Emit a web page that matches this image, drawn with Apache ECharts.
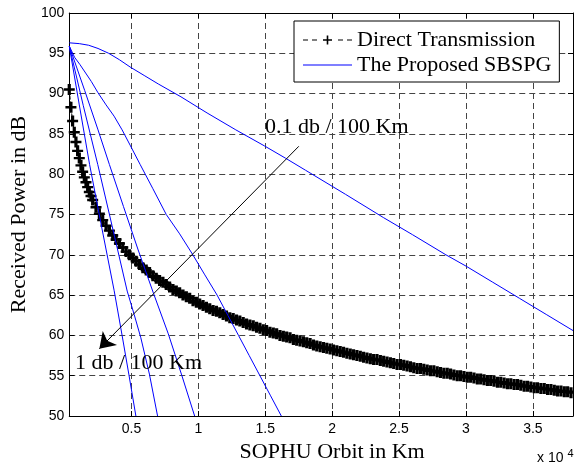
<!DOCTYPE html>
<html><head><meta charset="utf-8">
<script src="https://cdn.jsdelivr.net/npm/echarts@6/dist/echarts.min.js"></script>
<style>html,body{margin:0;padding:0;background:#fff}#c{width:574px;height:468px}</style>
</head><body><div id="c"></div>
<script>
// ---- tick labels ----
const xTickValues = [5000, 10000, 15000, 20000, 25000, 30000, 35000];
const xTickLabels = ['0.5', '1', '1.5', '2', '2.5', '3', '3.5'];

// ---- Direct Transmission (km, dB) ----
const dtKm = [350,475,600,725,850,975,1100,1225,1350,1475,1600,1725,1850,1975,2100,
2350,2600,2850,3100,3350,3600,3850,4100,4350,4600,4850,5100,5350,5600,5850,6100,6350,6600,6850,7100,7350,7600,7850,
8100,8350,8600,8850,9100,9350,9600,9850,10100,10350,10600,10850,11100,11350,11600,11850,12100,12350,12600,12850,
13100,13350,13600,13850,14100,14350,14600,14850,15100,15350,15600,15850,16100,16350,16600,16850,17100,17350,17600,17850,
18100,18350,18600,18850,19100,19350,19600,19850,20100,20350,20600,20850,21100,21350,21600,21850,22100,22350,22600,22850,
23100,23350,23600,23850,24100,24350,24600,24850,25100,25350,25600,25850,26100,26350,26600,26850,27100,27350,27600,27850,
28100,28350,28600,28850,29100,29350,29600,29850,30100,30350,30600,30850,31100,31350,31600,31850,32100,32350,32600,32850,
33100,33350,33600,33850,34100,34350,34600,34850,35100,35350,35600,35850,36100,36350,36600,36850,37100,37350,37600,37850];
const dtPower = [90.5,88.3,86.6,85.2,84.0,82.9,82.0,81.1,80.3,79.6,79.0,78.4,77.8,77.3,76.8,
75.9,75.1,74.3,73.6,73.0,72.4,71.9,71.4,70.9,70.4,70.0,69.6,69.2,68.8,68.4,68.1,67.8,67.4,67.1,66.8,66.6,66.3,66.0,
65.7,65.5,65.3,65.0,64.8,64.6,64.3,64.1,63.9,63.7,63.5,63.3,63.1,63.0,62.8,62.6,62.4,62.2,62.1,61.9,
61.8,61.6,61.4,61.3,61.2,61.0,60.9,60.7,60.6,60.4,60.3,60.2,60.0,59.9,59.8,59.7,59.5,59.4,59.3,59.2,
59.1,59.0,58.8,58.7,58.6,58.5,58.4,58.3,58.2,58.1,58.0,57.9,57.8,57.7,57.6,57.5,57.4,57.3,57.2,57.1,
57.0,57.0,56.9,56.8,56.7,56.6,56.5,56.4,56.4,56.3,56.2,56.1,56.0,55.9,55.9,55.8,55.7,55.6,55.6,55.5,
55.4,55.3,55.3,55.2,55.1,55.0,55.0,54.9,54.8,54.8,54.7,54.6,54.6,54.5,54.4,54.4,54.3,54.2,54.2,54.1,
54.0,54.0,53.9,53.9,53.8,53.7,53.7,53.6,53.5,53.5,53.4,53.4,53.3,53.3,53.2,53.1,53.1,53.0,53.0,52.9];

// ---- The Proposed SBSPG, 1 dB/100 Km ... 0.1 dB/100 Km ----
const sbKm1 = [350, 1100, 1870, 2800, 3700, 4300, 4800, 5330];
const sbPw1 = [95.9, 88.6, 81.2, 73.2, 65.6, 60.0, 55.2, 50.0];
const sbKm2 = [350, 1400, 2480, 3550, 4680, 5200, 5700, 6340, 6950];
const sbPw2 = [95.9, 88.5, 81.2, 73.6, 65.5, 62.6, 59.7, 55.2, 50.0];
const sbKm3 = [350, 1500, 2500, 3350, 4400, 5500, 6650, 7750, 8750, 9720];
const sbPw3 = [95.9, 90.4, 85.5, 81.2, 76.0, 70.6, 65.2, 60.2, 55.1, 50.0];
const sbKm4 = [350, 750, 1150, 2000, 2500, 3100, 3700, 4300, 4900, 5650, 6600, 7600, 8600, 9550, 10450, 11400, 12200, 13000, 13800, 14600, 15400, 16200];
const sbPw4 = [95.9, 94.5, 93.6, 91.5, 90.1, 88.6, 87.2, 85.5, 83.6, 81.2, 78.2, 75.0, 72.6, 70.1, 67.6, 65.0, 62.5, 60.0, 57.5, 55.0, 52.5, 50.0];
const sbKm5 = [350, 1100, 1800, 2500, 3300, 4100, 4900, 6000, 7000, 8700, 10650, 12800, 14950, 16500, 18000, 21000, 23850, 26000, 28500, 30000, 32000, 34000, 36000, 38000];
const sbPw5 = [96.3, 96.2, 96.0, 95.6, 95.0, 94.2, 93.3, 92.2, 91.2, 89.6, 87.6, 85.5, 83.5, 82.0, 80.5, 77.5, 74.6, 72.5, 70.0, 68.6, 66.6, 64.6, 62.6, 60.6];

// annotation arrow (data coordinates)
const arrowFrom = [17505, 83.46];
const arrowTo = [2600, 58.34];

const zip = (a, b) => a.map((v, i) => [v, b[i]]);
const SERIF = '"Liberation Serif", "Times New Roman", serif';
const SANS = '"Liberation Sans", Arial, sans-serif';
const plusPath = 'path://M0,4.3h11v2.4h-11z M3.9,0h3.2v11h-3.2z';
const legendDT = 'path://M0,4h5v1h-5z M9,4h5v1h-5z M35,4h5v1h-5z M44,4h5v1h-5z M20,3.7h9v1.6h-9z M23.7,0h1.6v9h-1.6z';
const legendSB = 'path://M0,4h49v1h-49z';

const blueSeries = [[sbKm1, sbPw1], [sbKm2, sbPw2], [sbKm3, sbPw3], [sbKm4, sbPw4], [sbKm5, sbPw5]].map(p => ({
  name: 'The Proposed SBSPG', type: 'line', data: zip(p[0], p[1]),
  showSymbol: false, symbol: 'none', smooth: false,
  lineStyle: { color: '#0000ff', width: 1 }, itemStyle: { color: '#0000ff' },
  emphasis: { disabled: true }, z: 3
}));

const chart = echarts.init(document.getElementById('c'), null, { renderer: 'canvas' });
const tickCommon = { inside: true, length: 5, lineStyle: { color: '#000', width: 1 } };
chart.setOption({
  animation: false,
  backgroundColor: '#fff',
  grid: { left: 59, top: 13, right: 1, bottom: 51 },
  legend: {
    left: 294, top: 21, orient: 'vertical', selectedMode: false,
    padding: [8, 8, 6, 9], itemGap: 3, itemWidth: 49, itemHeight: 9,
    borderColor: '#000', borderWidth: 1, backgroundColor: '#fff',
    textStyle: { fontFamily: SERIF, fontSize: 22, color: '#000' },
    data: [{ name: 'Direct Transmission', icon: legendDT }, { name: 'The Proposed SBSPG', icon: legendSB }]
  },
  xAxis: [{
    type: 'value', min: 350, max: 38000, position: 'bottom',
    name: 'SOPHU Orbit in Km', nameLocation: 'middle', nameGap: 25,
    nameTextStyle: { fontFamily: SERIF, fontSize: 22, color: '#000', padding: [0, 0, 0, 22] },
    axisLine: { show: true, onZero: false, lineStyle: { color: '#000', width: 1 } },
    axisTick: Object.assign({ customValues: xTickValues }, tickCommon),
    axisLabel: { customValues: xTickValues, margin: 6, fontFamily: SANS, fontSize: 14, color: '#000',
      formatter: v => { const i = xTickValues.indexOf(v); return i >= 0 ? xTickLabels[i] : ''; } },
    splitLine: { show: true, lineStyle: { color: '#444', width: 1, type: [6, 4] } }
  }, {
    type: 'value', min: 350, max: 38000, position: 'top',
    axisLine: { show: true, onZero: false, lineStyle: { color: '#000', width: 1 } },
    axisTick: Object.assign({ customValues: xTickValues }, tickCommon),
    axisLabel: { show: false, customValues: xTickValues }, splitLine: { show: false }
  }],
  yAxis: [{
    type: 'value', min: 50, max: 100, interval: 5, position: 'left',
    name: 'Received Power in dB', nameLocation: 'middle', nameGap: 26,
    nameTextStyle: { fontFamily: SERIF, fontSize: 22, color: '#000' },
    axisLine: { show: true, onZero: false, lineStyle: { color: '#000', width: 1 } },
    axisTick: tickCommon,
    axisLabel: { margin: 5, fontFamily: SANS, fontSize: 14, color: '#000' },
    splitLine: { show: true, lineStyle: { color: '#444', width: 1, type: [6, 4] } }
  }, {
    type: 'value', min: 50, max: 100, interval: 5, position: 'right',
    axisLine: { show: true, onZero: false, lineStyle: { color: '#000', width: 1 } },
    axisTick: tickCommon, axisLabel: { show: false }, splitLine: { show: false }
  }],
  series: [{
    name: 'Direct Transmission', type: 'line', data: zip(dtKm, dtPower),
    symbol: plusPath, symbolSize: 11, showSymbol: true, showAllSymbol: true,
    lineStyle: { color: '#000', width: 1, type: 'dashed' },
    itemStyle: { color: '#000' }, emphasis: { disabled: true }, z: 2,
    markLine: {
      silent: true, symbol: ['none', 'arrow'], symbolSize: 15,
      lineStyle: { color: '#000', width: 1, type: 'solid' },
      label: { show: false }, emphasis: { disabled: true },
      data: [[{ coord: arrowFrom }, { coord: arrowTo }]]
    }
  }].concat(blueSeries),
  graphic: [
    { type: 'text', x: 265, y: 127.5, z: 10, style: { text: '0.1 db / 100 Km', font: '22px ' + SERIF, fill: '#000', textVerticalAlign: 'middle' } },
    { type: 'text', x: 75, y: 363.5, z: 10, style: { text: '1 db / 100 Km', font: '22px ' + SERIF, fill: '#000', textVerticalAlign: 'middle' } },
    { type: 'text', x: 537, y: 458.5, z: 10, style: { text: 'x 10', font: '14px ' + SANS, fill: '#000', textVerticalAlign: 'middle' } },
    { type: 'text', x: 567.5, y: 453.5, z: 10, style: { text: '4', font: '11px ' + SANS, fill: '#000', textVerticalAlign: 'middle' } }
  ]
});
</script></body></html>
